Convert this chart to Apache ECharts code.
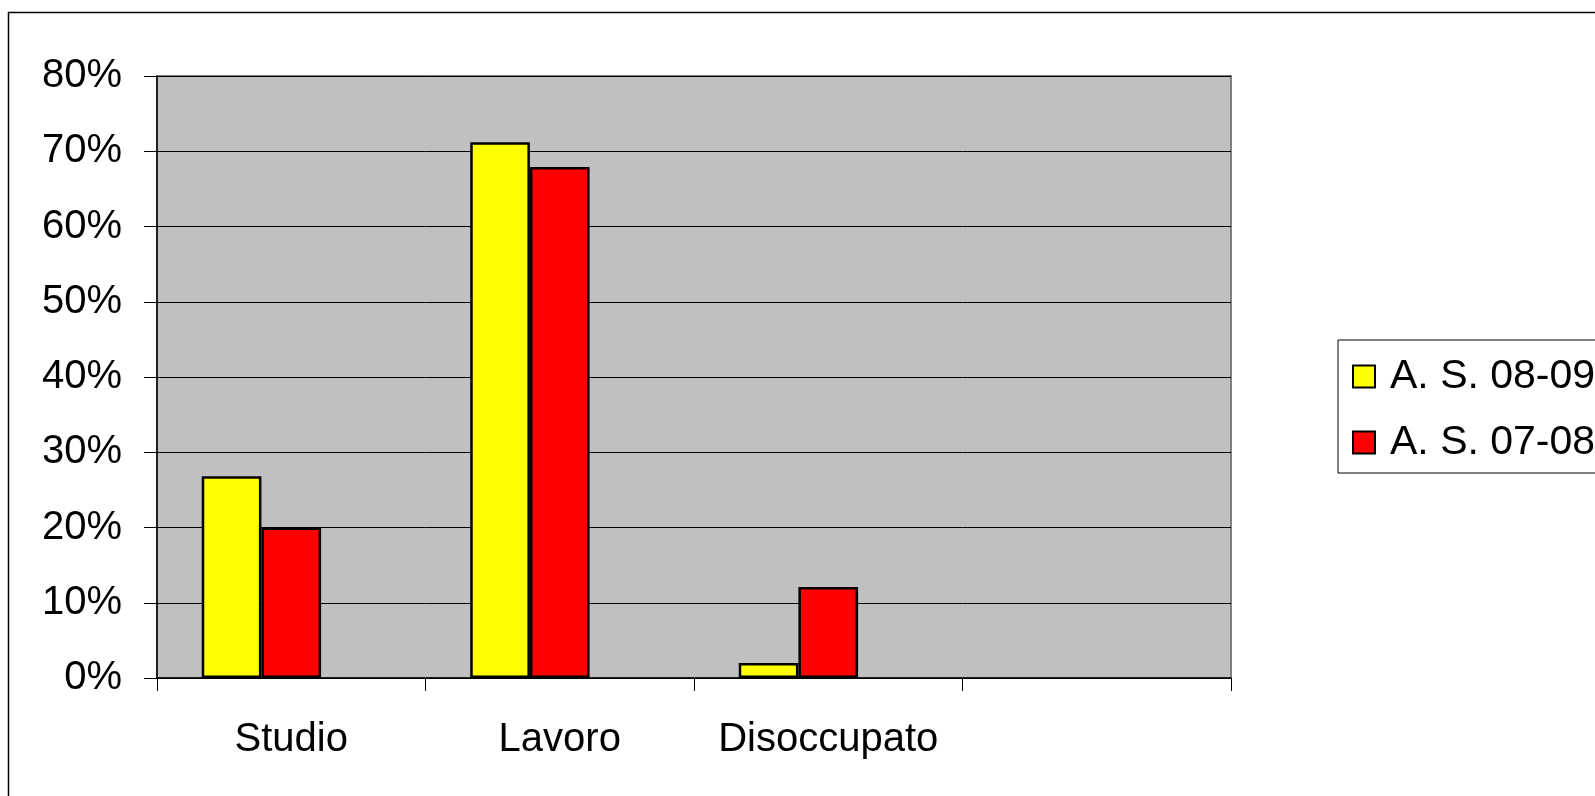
<!DOCTYPE html>
<html>
<head>
<meta charset="utf-8">
<script src="https://cdn.jsdelivr.net/npm/echarts@6/dist/echarts.min.js"></script>
<style>
html,body{margin:0;padding:0;background:#fff;}
#c{width:1595px;height:796px;}
</style>
</head>
<body>
<div id="c"></div>
<script>
var categories = ['Studio', 'Lavoro', 'Disoccupato', ''];
var seriesNames = ['A. S. 08-09', 'A. S. 07-08'];
var values0809 = [26.8, 71.2, 2.0, null];
var values0708 = [20.0, 67.9, 12.1, null];
var emptySeries = [null, null, null, null];
var yTicks = {min: 0, max: 80, interval: 10};

var FONT = "'Liberation Sans', Arial, sans-serif";
var chart = echarts.init(document.getElementById('c'));
chart.setOption({
  animation: false,
  backgroundColor: '#ffffff',
  graphic: [{
    type: 'rect',
    shape: {x: 8.5, y: 12.5, width: 1700, height: 900},
    style: {fill: 'none', stroke: '#000', lineWidth: 1.5},
    z: 100
  }],
  grid: {
    left: 157, top: 76, right: 364, bottom: 118,
    show: true, backgroundColor: '#C0C0C0',
    borderColor: '#808080', borderWidth: 2
  },
  legend: {
    orient: 'vertical',
    left: 1338, top: 340,
    data: seriesNames,
    icon: 'rect',
    backgroundColor: '#fff',
    borderColor: '#000', borderWidth: 1,
    padding: [16, 30, 10, 14],
    itemWidth: 22, itemHeight: 22, itemGap: 25,
    textStyle: {fontFamily: FONT, fontSize: 41, color: '#000', padding: [0, 0, 0, 10]}
  },
  xAxis: {
    type: 'category',
    data: categories,
    axisLine: {lineStyle: {color: '#000', width: 1.5}},
    axisTick: {show: true, length: 13, alignWithLabel: false, lineStyle: {color: '#000', width: 1}},
    axisLabel: {fontFamily: FONT, fontSize: 40, color: '#000', margin: 42, interval: 0},
    splitLine: {show: false}
  },
  yAxis: {
    type: 'value',
    min: yTicks.min, max: yTicks.max, interval: yTicks.interval,
    axisLine: {show: true, lineStyle: {color: '#000', width: 1.5}},
    axisTick: {show: true, length: 13, lineStyle: {color: '#000', width: 1}},
    axisLabel: {fontFamily: FONT, fontSize: 40, color: '#000', margin: 35, formatter: '{value}%'},
    splitLine: {show: true, lineStyle: {color: '#000', width: 1}}
  },
  series: [
    {
      name: seriesNames[0], type: 'bar', data: values0809,
      barGap: '0%', barCategoryGap: '33.33%',
      itemStyle: {color: '#FFFF00', borderColor: '#000', borderWidth: 2.5}
    },
    {
      name: seriesNames[1], type: 'bar', data: values0708,
      barGap: '0%', barCategoryGap: '33.33%',
      itemStyle: {color: '#FF0000', borderColor: '#000', borderWidth: 2.5}
    },
    {
      name: '', type: 'bar', data: emptySeries,
      barGap: '0%', barCategoryGap: '33.33%',
      itemStyle: {color: 'transparent'}
    }
  ]
});
</script>
</body>
</html>
